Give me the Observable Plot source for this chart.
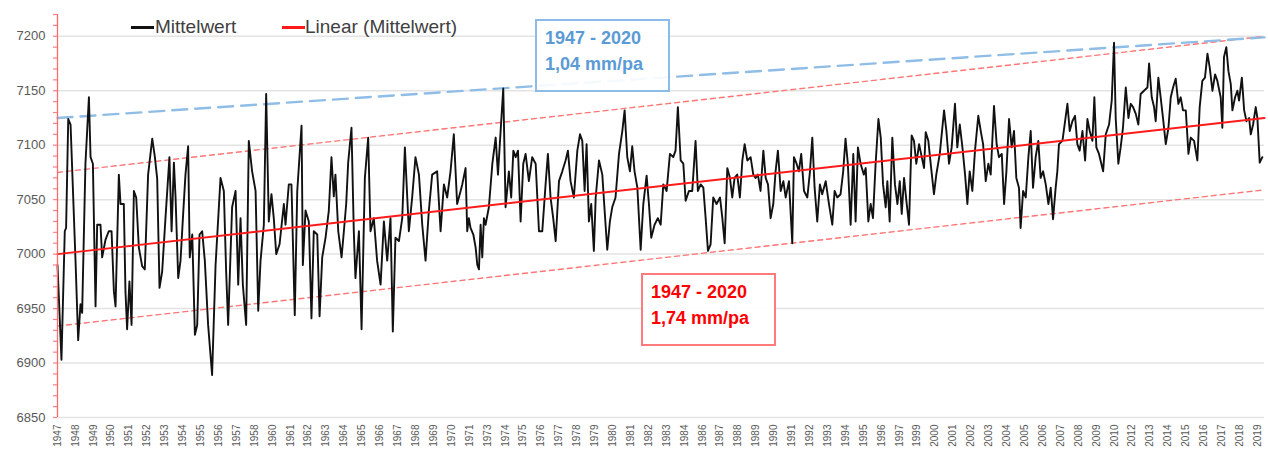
<!DOCTYPE html>
<html>
<head>
<meta charset="utf-8">
<script src="https://cdn.jsdelivr.net/npm/d3@7"></script>
<script src="https://cdn.jsdelivr.net/npm/@observablehq/plot@0.6"></script>
<style>
  html, body { margin: 0; padding: 0; background: #fff; }
  #wrap { position: relative; width: 1268px; height: 451px; font-family: "Liberation Sans", Arial, sans-serif; }
  #wrap svg { position: absolute; left: 0; top: 0; }
  .abs { position: absolute; white-space: nowrap; }
  .legtxt { font-size: 19px; line-height: 20px; color: #404040; }
  .box { position: absolute; box-sizing: border-box; width: 135px; height: 73px; padding: 4px 0 0 8px; font-weight: bold; font-size: 18px; line-height: 26px; background: rgba(255,255,255,0.9); }
  #bbox { border: 2px solid #8dbbe8; color: #5b9bd5; }
  #rbox { border: 2px solid #ff7a7a; color: #ff0000; }
</style>
</head>
<body>
<div id="wrap"></div>
<script>
// Monthly mean sea level (Mittelwert)
const years = [
1947.00,1947.24,1947.44,1947.52,1947.65,1947.79,1948.09,1948.25,1948.39,1948.49,1948.69,1948.90,1949.00,1949.14,1949.30,1949.40,1949.60,1949.70,1949.90,1950.10,
1950.27,1950.41,1950.51,1950.71,1950.81,1951.01,1951.11,1951.21,1951.35,1951.48,1951.62,1951.76,1951.92,1952.12,1952.28,1952.48,1952.73,1952.89,1953.03,1953.17,
1953.33,1953.53,1953.77,1953.90,1954.04,1954.14,1954.30,1954.44,1954.60,1954.74,1954.90,1955.00,1955.15,1955.31,1955.45,1955.59,1955.75,1955.91,1956.11,1956.35,
1956.56,1956.86,1957.06,1957.20,1957.32,1957.56,1957.77,1957.93,1958.07,1958.21,1958.41,1958.57,1958.77,1958.98,1959.14,1959.28,1959.48,1959.62,1959.78,1959.94,
1960.08,1960.23,1960.43,1960.69,1960.79,1960.99,1961.15,1961.35,1961.50,1961.76,1961.84,1962.00,1962.20,1962.36,1962.50,1962.71,1962.85,1963.01,1963.21,1963.41,
1963.57,1963.71,1963.81,1963.98,1964.18,1964.32,1964.46,1964.58,1964.78,1964.92,1965.02,1965.23,1965.39,1965.59,1965.79,1965.93,1966.13,1966.33,1966.54,1966.74,
1966.94,1967.14,1967.28,1967.44,1967.65,1967.85,1968.01,1968.25,1968.45,1968.65,1968.86,1969.06,1969.26,1969.46,1969.66,1969.96,1970.17,1970.37,1970.57,1970.77,
1970.97,1971.17,1971.38,1971.48,1971.68,1971.78,1971.88,1971.98,1972.15,1972.29,1972.39,1972.49,1972.59,1972.69,1972.79,1972.89,1973.09,1973.30,1973.50,1973.64,
1973.80,1973.96,1974.10,1974.30,1974.44,1974.57,1974.71,1974.85,1975.01,1975.17,1975.31,1975.51,1975.71,1975.92,1976.12,1976.32,1976.52,1976.66,1976.82,1976.98,
1977.13,1977.33,1977.53,1977.73,1977.87,1978.03,1978.23,1978.44,1978.60,1978.74,1978.88,1979.00,1979.14,1979.28,1979.44,1979.55,1979.75,1979.95,1980.09,1980.25,
1980.41,1980.55,1980.75,1980.96,1981.16,1981.30,1981.46,1981.62,1981.76,1981.90,1982.07,1982.27,1982.43,1982.63,1982.77,1982.91,1983.11,1983.31,1983.48,1983.64,
1983.84,1984.04,1984.24,1984.38,1984.52,1984.69,1984.85,1984.99,1985.19,1985.39,1985.59,1985.73,1985.90,1986.06,1986.20,1986.34,1986.50,1986.66,1986.86,1987.07,
1987.21,1987.35,1987.51,1987.67,1987.81,1987.95,1988.11,1988.27,1988.42,1988.56,1988.72,1988.92,1989.08,1989.22,1989.36,1989.52,1989.69,1989.83,1989.97,1990.13,
1990.29,1990.43,1990.57,1990.74,1990.90,1991.04,1991.24,1991.44,1991.54,1991.70,1991.84,1991.98,1992.15,1992.35,1992.51,1992.65,1992.79,1992.95,1993.11,1993.25,
1993.46,1993.66,1993.86,1994.00,1994.16,1994.36,1994.52,1994.66,1994.80,1994.97,1995.13,1995.27,1995.41,1995.57,1995.77,1995.88,1996.04,1996.18,1996.32,1996.48,
1996.65,1996.79,1996.93,1997.09,1997.19,1997.33,1997.49,1997.65,1997.80,1997.94,1998.06,1998.20,1998.34,1998.50,1998.66,1998.80,1998.94,1999.11,1999.27,1999.41,
1999.51,1999.67,1999.81,2000.01,2000.15,2000.36,2000.62,2000.76,2000.92,2001.08,2001.28,2001.42,2001.57,2001.73,2001.89,2002.03,2002.17,2002.33,2002.49,2002.69,
2002.84,2002.98,2003.14,2003.30,2003.44,2003.64,2003.80,2003.94,2004.11,2004.25,2004.39,2004.55,2004.71,2004.85,2004.99,2005.15,2005.25,2005.40,2005.56,2005.72,
2005.86,2006.00,2006.16,2006.32,2006.46,2006.61,2006.77,2006.93,2007.07,2007.21,2007.37,2007.47,2007.57,2007.78,2007.94,2008.08,2008.22,2008.38,2008.54,2008.68,
2008.82,2008.99,2009.15,2009.29,2009.43,2009.59,2009.71,2009.83,2009.99,2010.24,2010.40,2010.60,2010.76,2010.90,2011.00,2011.16,2011.30,2011.44,2011.61,2011.77,
2011.91,2012.05,2012.21,2012.37,2012.51,2012.71,2012.92,2013.02,2013.18,2013.32,2013.42,2013.58,2013.72,2013.86,2014.03,2014.19,2014.33,2014.47,2014.63,2014.79,
2014.93,2015.07,2015.24,2015.40,2015.54,2015.74,2015.94,2016.08,2016.24,2016.40,2016.55,2016.69,2016.85,2017.01,2017.15,2017.35,2017.45,2017.55,2017.69,2017.82,
2017.96,2018.06,2018.22,2018.36,2018.46,2018.63,2018.77,2018.91,2019.07,2019.17,2019.31,2019.47,2019.57,2019.71,2019.87
];
const levels = [
6990,6903,7021,7024,7124,7119,6994,6921,6954,6946,7083,7144,7089,7083,6952,7027,7027,6997,7013,7021,
7021,6966,6952,7073,7046,7046,6966,6931,6975,6935,7058,7052,7006,6989,6986,7073,7106,7089,7069,6969,
6984,7033,7089,7021,7084,7052,6978,6994,7037,7073,7099,6997,7018,6926,6935,7018,7021,6994,6935,6889,
6990,7070,7058,6984,6935,7043,7058,6972,7033,6972,6935,7104,7076,7058,6948,6994,7027,7147,7030,7055,
7033,7000,7009,7046,7027,7064,7064,6944,7058,7118,6990,7040,7030,6941,7021,7018,6943,6997,7015,7040,
7089,7053,7073,7021,6997,7021,7046,7084,7116,7021,6978,7021,6931,7070,7107,7021,7033,6994,6972,7030,
6994,7033,6929,7015,7012,7033,7098,7021,7052,7089,7073,7027,6994,7040,7073,7076,7021,7064,7052,7076,
7110,7046,7058,7064,7079,7021,7033,7024,7018,7006,6990,6986,7027,6997,7033,7027,7043,7083,7107,7073,
7113,7152,7043,7076,7052,7095,7089,7095,7030,7083,7092,7067,7089,7083,7021,7021,7064,7092,7052,7033,
7012,7067,7076,7086,7095,7067,7052,7095,7110,7104,7058,7101,7030,7046,7003,7052,7086,7073,7040,7004,
7030,7043,7052,7092,7113,7132,7089,7076,7099,7076,7061,7004,7046,7072,7046,7015,7027,7033,7027,7064,
7058,7092,7089,7095,7135,7086,7083,7049,7058,7058,7104,7058,7064,7061,7033,7003,7009,7052,7046,7052,
7033,7010,7079,7070,7052,7070,7073,7052,7086,7101,7086,7089,7073,7070,7073,7058,7095,7070,7064,7033,
7046,7076,7095,7058,7067,7052,7067,7010,7089,7083,7076,7092,7058,7052,7076,7107,7061,7030,7064,7055,
7067,7046,7027,7058,7052,7055,7076,7106,7083,7027,7092,7030,7098,7083,7073,7079,7030,7046,7033,7083,
7124,7107,7064,7043,7067,7030,7107,7064,7046,7067,7037,7070,7049,7027,7109,7104,7083,7101,7089,7079,
7112,7104,7083,7055,7073,7092,7132,7113,7083,7098,7138,7098,7119,7098,7073,7046,7076,7058,7095,7127,
7113,7101,7067,7083,7073,7136,7101,7089,7092,7046,7076,7124,7098,7113,7070,7061,7024,7058,7052,7089,
7113,7061,7089,7104,7070,7076,7064,7046,7061,7032,7061,7076,7101,7104,7122,7138,7113,7122,7127,7101,
7095,7113,7086,7124,7113,7104,7144,7098,7092,7076,7110,7119,7141,7194,7125,7083,7098,7116,7153,7125,
7138,7135,7129,7119,7147,7150,7153,7175,7144,7135,7122,7162,7144,7125,7101,7116,7144,7153,7161,7138,
7144,7132,7132,7092,7107,7104,7086,7135,7159,7162,7184,7171,7150,7165,7159,7144,7116,7181,7190,7168,
7156,7132,7144,7150,7141,7162,7132,7122,7125,7110,7119,7135,7125,7084,7089
];

// Trend lines (start 1947, end 2020)
const trendYears = [1947, 2020];
const linearFit  = [7000, 7125];   // Linear (Mittelwert), red solid
const upperBand  = [7075, 7200];   // red dashed
const lowerBand  = [6934, 7059];   // red dashed
const blueTrend  = [7125, 7199];   // blue dashed, 1,04 mm/pa

// Category tick labels (Excel shows one every 13 months)
const tickLabels = ["1947","1948","1949","1950","1951","1952","1953","1954","1955","1956","1957","1958",
"1960","1961","1962","1963","1964","1965","1966","1967","1968","1969","1970","1971",
"1973","1974","1975","1976","1977","1978","1979","1980","1981","1982","1983","1984",
"1986","1987","1988","1989","1990","1991","1992","1993","1994","1995","1996","1997",
"1999","2000","2001","2002","2003","2004","2005","2006","2007","2008","2009","2010",
"2012","2013","2014","2015","2016","2017","2018","2019"];
const yTicks = [6850, 6900, 6950, 7000, 7050, 7100, 7150, 7200];

const series = years.map((t, i) => ({t, v: levels[i]}));
const trend = (vals) => trendYears.map((t, i) => ({t, v: vals[i]}));
const tickPos = tickLabels.map((_, i) => 1947 + i * 13 / 12);
const fmt = d => tickLabels[Math.round((d - 1947) * 12 / 13)];
const minor = d3.range(6850, 7221, 10);

const chart = Plot.plot({
  width: 1268,
  height: 451,
  marginLeft: 57,
  marginRight: 4,
  marginTop: 14,
  marginBottom: 34,
  style: {fontFamily: "'Liberation Sans', Arial, sans-serif", background: "transparent", overflow: "visible"},
  x: {domain: [1947, 2020], label: null},
  y: {domain: [6850, 7220], label: null},
  marks: [
    Plot.ruleY(yTicks, {stroke: "#e3e3e3", strokeWidth: 1.5}),
    Plot.line(trend(upperBand), {x: "t", y: "v", stroke: "#ff7575", strokeWidth: 1.4, strokeDasharray: "5,4"}),
    Plot.line(trend(lowerBand), {x: "t", y: "v", stroke: "#ff7575", strokeWidth: 1.4, strokeDasharray: "5,4"}),
    Plot.line(trend(blueTrend), {x: "t", y: "v", stroke: "#8fbde6", strokeWidth: 2.4, strokeDasharray: "15,8"}),
    Plot.line(series, {x: "t", y: "v", stroke: "#111", strokeWidth: 1.9, strokeLinejoin: "round"}),
    Plot.line(trend(linearFit), {x: "t", y: "v", stroke: "#ff1a1a", strokeWidth: 2}),
    Plot.ruleX([1947], {y1: 6850, y2: 7220, stroke: "#ff6b6b", strokeWidth: 1.3}),
    Plot.axisY(minor, {tickSize: 4, stroke: "#ff8080", text: null, strokeWidth: 1.2, label: null}),
    Plot.axisY(yTicks, {tickSize: 0, tickPadding: 12, fontSize: 13, fill: "#595959", label: null, tickFormat: d => String(d)}),
    Plot.axisX(tickPos, {tickFormat: fmt, tickRotate: -90, tickSize: 0, tickPadding: 7, fontSize: 10, fill: "#595959", label: null})
  ]
});

const wrap = document.getElementById("wrap");
wrap.appendChild(chart);

function add(html, cls, style, id) {
  const el = document.createElement("div");
  el.className = cls;
  if (id) el.id = id;
  el.setAttribute("style", style);
  el.innerHTML = html;
  wrap.appendChild(el);
}
// Legend
add("", "abs", "left:131px;top:26px;width:23px;height:2.5px;background:#111;");
add("Mittelwert", "abs legtxt", "left:155px;top:17px;");
add("", "abs", "left:282px;top:26px;width:23px;height:2.5px;background:#ff1a1a;");
add("Linear (Mittelwert)", "abs legtxt", "left:305px;top:17px;");
// Annotation boxes
add("1947 - 2020<br>1,04 mm/pa", "box", "left:535px;top:19px;", "bbox");
add("1947 - 2020<br>1,74 mm/pa", "box", "left:641px;top:273px;", "rbox");
</script>
</body>
</html>
